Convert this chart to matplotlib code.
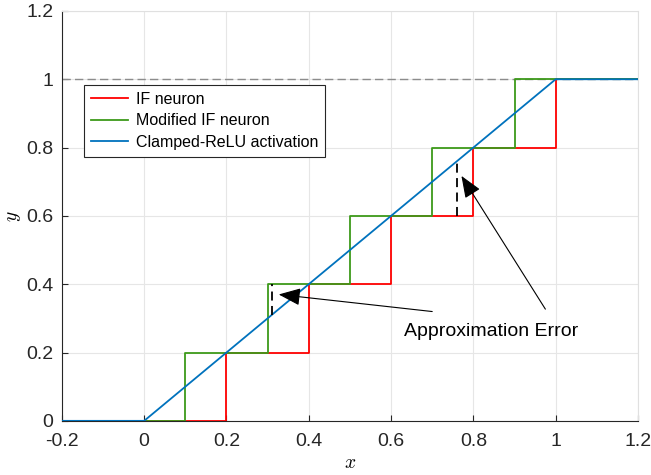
import numpy as np
import matplotlib
matplotlib.use('Agg')
import matplotlib.pyplot as plt

plt.rcParams['font.family'] = ['Liberation Sans', 'DejaVu Sans']
plt.rcParams['mathtext.fontset'] = 'cm'

# data
if_x = [-0.2, 0.2, 0.4, 0.6, 0.8, 1.0, 1.2]
if_y = [0, 0.2, 0.4, 0.6, 0.8, 1.0, 1.0]
mod_x = [-0.2, 0.1, 0.3, 0.5, 0.7, 0.9, 1.2]
mod_y = [0, 0.2, 0.4, 0.6, 0.8, 1.0, 1.0]
relu_x = [-0.2, 0, 1.0, 1.2]
relu_y = [0, 0, 1.0, 1.0]

# approximation error markers
err_x = [0.31, 0.76]
err_lo = [0.31, 0.6]
err_hi = [0.4, 0.76]
arrow_heads = [(0.327, 0.37), (0.771, 0.717)]
arrow_tails = [(0.70, 0.32), (0.975, 0.327)]
label_xy = (0.843, 0.263)

fig = plt.figure(figsize=(6.51, 4.75), dpi=100)
ax = fig.add_axes([0.095, 0.114, 0.885, 0.863])

ax.axhline(1.0, color='#8c8c8c', lw=1.0, ls=(0, (6, 3)), zorder=1)

ax.step(if_x, if_y, where='post', color='#ff0000', lw=1.3, label='IF neuron', zorder=3)
ax.step(mod_x, mod_y, where='post', color='#3d9a1a', lw=1.3, label='Modified IF neuron', zorder=4)
ax.plot(relu_x, relu_y, color='#0072bd', lw=1.3, label='Clamped-ReLU activation', zorder=5)

for xe, lo, hi in zip(err_x, err_lo, err_hi):
    ax.plot([xe, xe], [lo, hi], color='black', lw=1.3, ls=(0, (5, 3)), zorder=6)

for head, tail in zip(arrow_heads, arrow_tails):
    ax.annotate('', xy=head, xytext=tail,
                arrowprops=dict(arrowstyle='-|>,head_length=0.5,head_width=0.2',
                                color='black', lw=0.8,
                                mutation_scale=27, shrinkA=0, shrinkB=0),
                zorder=7)
ax.text(label_xy[0], label_xy[1], 'Approximation Error', fontsize=14,
        ha='center', va='center', zorder=7)

ax.set_xlim(-0.2, 1.2)
ax.set_ylim(0, 1.2)
ax.set_xticks(np.arange(-0.2, 1.21, 0.2))
ax.set_yticks(np.arange(0, 1.21, 0.2))
ax.set_xticklabels(['-0.2', '0', '0.2', '0.4', '0.6', '0.8', '1', '1.2'])
ax.set_yticklabels(['0', '0.2', '0.4', '0.6', '0.8', '1', '1.2'])
ax.tick_params(direction='in', labelsize=14, length=4, colors='#262626')
ax.tick_params(axis='x', pad=9)
ax.tick_params(axis='y', pad=6)
ax.grid(True, color='#e6e6e6', lw=0.8)
ax.set_axisbelow(True)
for s in ['top', 'right']:
    ax.spines[s].set_color('#e0e0e0')
for s in ['left', 'bottom']:
    ax.spines[s].set_color('#262626')

ax.set_xlabel('$x$', fontsize=14, labelpad=3)
ax.set_ylabel('$y$', fontsize=14, labelpad=2)

leg = ax.legend(loc='upper left', bbox_to_anchor=(0.038, 0.82), fontsize=11.5,
                fancybox=False, edgecolor='#262626', framealpha=1,
                handlelength=2.3, borderpad=0.45, labelspacing=0.4,
                handletextpad=0.5, borderaxespad=0)
leg.get_frame().set_linewidth(0.8)

fig.savefig('out.png', dpi=100)
